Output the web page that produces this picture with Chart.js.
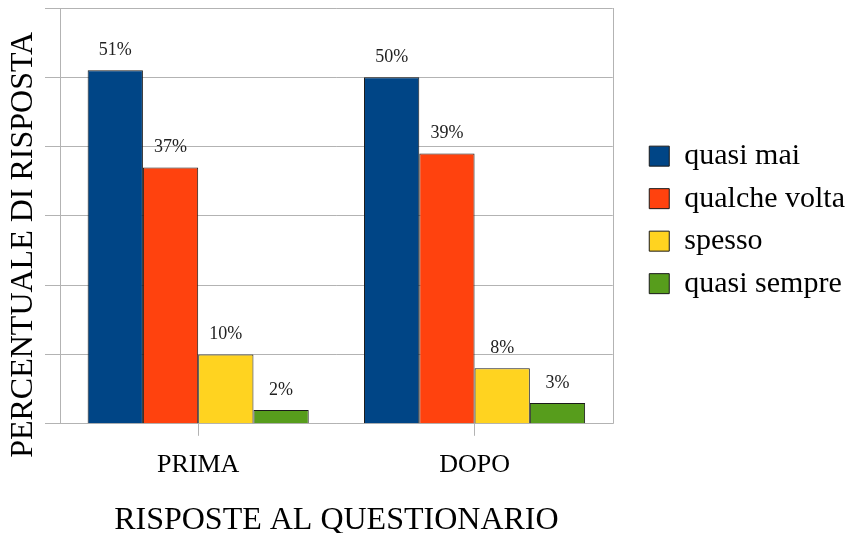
<!DOCTYPE html>
<html>
<head>
<meta charset="utf-8">
<script src="https://cdn.jsdelivr.net/npm/chart.js@4/dist/chart.umd.min.js"></script>
<style>
  html, body { margin: 0; padding: 0; background: #fff; }
</style>
</head>
<body>
<canvas id="grafico" width="849" height="533"></canvas>
<script>
const categorie = ['PRIMA', 'DOPO'];
const risposte = ['quasi mai', 'qualche volta', 'spesso', 'quasi sempre'];
const quasiMai = [51, 50];
const qualcheVolta = [37, 39];
const spesso = [10, 8];
const quasiSempre = [2, 3];
const colori = ['#004586', '#ff420e', '#ffd320', '#579d1c'];

const serif = '"Liberation Serif", "DejaVu Serif", serif';
const grigio = '#b3b3b3';
const titoloY = 'PERCENTUALE DI RISPOSTA';

// etichette percentuali sopra le barre
const etichette = {
    id: 'etichette',
    afterDatasetsDraw(chart) {
        const ctx = chart.ctx;
        ctx.save();
        ctx.font = '18px ' + serif;
        ctx.fillStyle = '#222';
        ctx.textAlign = 'center';
        ctx.textBaseline = 'bottom';
        chart.data.datasets.forEach((ds, i) => {
            chart.getDatasetMeta(i).data.forEach((bar, j) => {
                ctx.fillText(ds.data[j] + '%', bar.x, bar.y - 11);
            });
        });
        ctx.restore();
    }
};

// bordo destro dell'area + titolo asse verticale (un po' sotto il centro)
const cornice = {
    id: 'cornice',
    beforeDatasetsDraw(chart) {
        const a = chart.chartArea;
        const ctx = chart.ctx;
        ctx.save();
        ctx.strokeStyle = grigio;
        ctx.lineWidth = 1;
        ctx.beginPath();
        ctx.moveTo(Math.round(a.right) + 0.5, a.top);
        ctx.lineTo(Math.round(a.right) + 0.5, a.bottom);
        ctx.stroke();
        ctx.restore();
    },
    afterDraw(chart) {
        const ctx = chart.ctx;
        const a = chart.chartArea;
        ctx.save();
        ctx.translate(24, (a.top + a.bottom) / 2 + 29);
        ctx.rotate(-Math.PI / 2);
        ctx.font = '32px ' + serif;
        ctx.fillStyle = '#000';
        ctx.textAlign = 'center';
        ctx.textBaseline = 'middle';
        ctx.fillText(titoloY, 0, 0);
        ctx.restore();
    }
};

const serie = [quasiMai, qualcheVolta, spesso, quasiSempre];

new Chart(document.getElementById('grafico'), {
    type: 'bar',
    data: {
        labels: categorie,
        datasets: serie.map((valori, i) => ({
            label: risposte[i],
            data: valori,
            yAxisID: 'y',
            backgroundColor: colori[i],
            borderColor: '#1a1a1a',
            borderWidth: 1,
            categoryPercentage: 0.8,
            barPercentage: 1.0
        }))
    },
    options: {
        responsive: false,
        animation: false,
        devicePixelRatio: 1,
        layout: { padding: { top: 8, right: 0, left: 0, bottom: 0 } },
        plugins: {
            tooltip: { enabled: false },
            legend: {
                position: 'right',
                fullSize: false,
                // titolo vuoto: sposta appena in basso le voci
                title: {
                    display: true,
                    text: '',
                    font: { size: 1, lineHeight: 1 },
                    padding: { top: 7, bottom: 0 }
                },
                labels: {
                    boxWidth: 20,
                    boxHeight: 20,
                    padding: 12.5,
                    color: '#000',
                    font: { family: serif, size: 30 }
                }
            }
        },
        scales: {
            x: {
                grid: {
                    offset: false,
                    drawOnChartArea: false,
                    drawTicks: true,
                    tickLength: 12,
                    color: grigio
                },
                border: { color: grigio },
                ticks: {
                    color: '#000',
                    padding: 14,
                    font: { family: serif, size: 26, lineHeight: 1.2 }
                },
                title: {
                    display: true,
                    text: 'RISPOSTE AL QUESTIONARIO',
                    color: '#000',
                    font: { family: serif, size: 32, lineHeight: 1 },
                    padding: { top: 10, bottom: -4 }
                }
            },
            y: {
                min: 0,
                max: 60,
                grid: {
                    color: grigio,
                    tickLength: 15
                },
                border: { color: grigio },
                ticks: { display: false, stepSize: 10 },
                afterFit: (scala) => { scala.width = 60; }
            },
            // asse nascosto: solo spazio tra grafico e legenda
            y2: {
                axis: 'y',
                position: 'right',
                display: false,
                min: 0,
                max: 60,
                afterFit: (scala) => { scala.width = 24; }
            }
        }
    },
    plugins: [etichette, cornice]
});
</script>
</body>
</html>
